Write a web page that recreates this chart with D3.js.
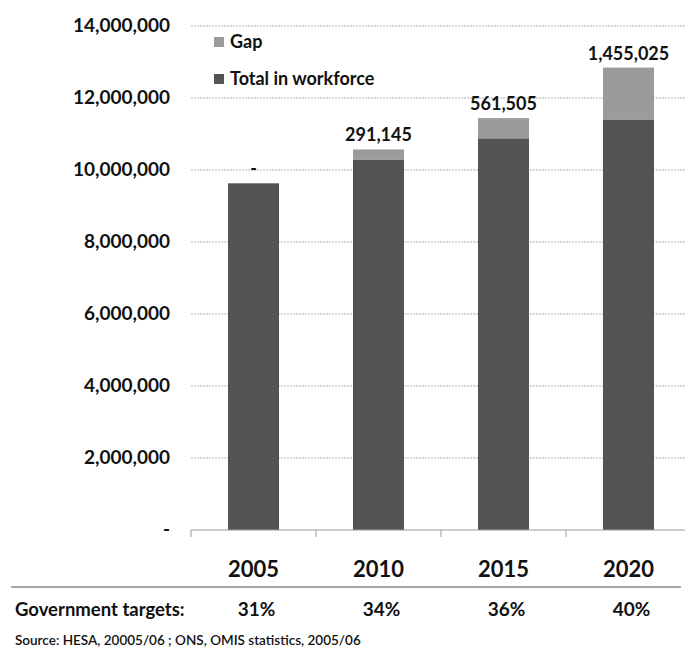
<!DOCTYPE html>
<html>
<head>
<meta charset="utf-8">
<script src="https://cdn.jsdelivr.net/npm/d3@7"></script>
<style>
  body { margin: 0; background: #fff; }
  text { font-family: Lato, "DejaVu Sans", sans-serif; font-weight: bold; fill: #111; }
</style>
</head>
<body>
<svg width="685" height="655"></svg>
<script>
// values
var years = ['2005', '2010', '2015', '2020'];
var workforce = [9630000, 10280000, 10880000, 11390000];
var gap = [0, 291145, 561505, 1455025];
var targets = ['31%', '34%', '36%', '40%'];
var yTicks = [0, 2000000, 4000000, 6000000, 8000000, 10000000, 12000000, 14000000];
var legendNames = ['Gap', 'Total in workforce'];
var colors = {gap: '#9b9b9b', work: '#545454'};

var svg = d3.select('svg');

var x = d3.scaleBand()
    .domain(years)
    .range([191, 691])
    .paddingInner(0.592)
    .paddingOuter(0.296);

var y = d3.scaleLinear().domain([0, 14000000]).range([530, 26]);

var fmt = d3.format(',');

// dotted gridlines
svg.selectAll('line.grid')
    .data(yTicks.filter(d => d > 0))
    .enter()
    .append('line')
    .attr('class', 'grid')
    .attr('x1', 191).attr('x2', 685)
    .attr('y1', d => y(d)).attr('y2', d => y(d))
    .attr('stroke', '#b0b0b0')
    .attr('stroke-dasharray', '2,1')

// y labels
svg.selectAll('text.ylab')
    .data(yTicks)
    .enter()
    .append('text')
    .attr('class', 'ylab')
    .attr('x', 170)
    .attr('y', d => y(d) + 6)
    .attr('text-anchor', 'end')
    .style('font-size', '19px')
    .text(d => d === 0 ? '-' : fmt(d))

var rows = years.map((yr, i) => ({year: yr, work: workforce[i], gap: gap[i], target: targets[i]}));

// bars
var g = svg.selectAll('g.bar')
    .data(rows)
    .enter()
    .append('g')
    .attr('class', 'bar')

g.append('rect')
    .attr('x', d => x(d.year))
    .attr('width', x.bandwidth())
    .attr('y', d => y(d.work))
    .attr('height', d => y(0) - y(d.work))
    .attr('fill', colors.work)

g.append('rect')
    .attr('x', d => x(d.year))
    .attr('width', x.bandwidth())
    .attr('y', d => y(d.work + d.gap))
    .attr('height', d => y(d.work) - y(d.work + d.gap))
    .attr('fill', colors.gap)

g.append('text')
    .attr('x', d => x(d.year) + x.bandwidth() / 2)
    .attr('y', d => y(d.work + d.gap) - 8)
    .attr('text-anchor', 'middle')
    .style('font-size', '18px')
    .text(d => d.gap === 0 ? '-' : fmt(d.gap))

// bottom axis line with ticks between categories
svg.append('line')
    .attr('x1', 191).attr('x2', 685)
    .attr('y1', 530).attr('y2', 530)
    .attr('stroke', '#999')

svg.selectAll('line.tick')
    .data(years)
    .enter()
    .append('line')
    .attr('class', 'tick')
    .attr('x1', d => x(d) - x.step() * x.paddingOuter())
    .attr('x2', d => x(d) - x.step() * x.paddingOuter())
    .attr('y1', 530).attr('y2', 537)
    .attr('stroke', '#999')

g.append('text')
    .attr('x', d => x(d.year) + x.bandwidth() / 2)
    .attr('y', 577)
    .attr('text-anchor', 'middle')
    .style('font-size', '22px')
    .text(d => d.year)

// separator under the years
svg.append('line')
    .attr('x1', 11).attr('x2', 681)
    .attr('y1', 587).attr('y2', 587)
    .attr('stroke', '#888')
    .attr('stroke-width', 1.5)

svg.append('text')
    .attr('x', 15).attr('y', 616)
    .style('font-size', '18.5px')
    .text('Government targets:')

g.append('text')
    .attr('x', d => x(d.year) + x.bandwidth() / 2 + 3)
    .attr('y', 616)
    .attr('text-anchor', 'middle')
    .style('font-size', '19px')
    .text(d => d.target)

svg.append('text')
    .attr('x', 15).attr('y', 645)
    .style('font-size', '13.5px')
    .style('font-weight', '600')
    .text('Source: HESA, 20005/06 ; ONS, OMIS statistics, 2005/06')

// legend
var leg = svg.selectAll('g.leg')
    .data(legendNames)
    .enter()
    .append('g')
    .attr('class', 'leg')
    .attr('transform', (d, i) => `translate(214,${37 + i * 37})`)

leg.append('rect')
    .attr('width', 10).attr('height', 10)
    .attr('fill', (d, i) => i === 0 ? colors.gap : colors.work)

leg.append('text')
    .attr('x', 16).attr('y', 11)
    .style('font-size', '18px')
    .text(d => d)
</script>
</body>
</html>
